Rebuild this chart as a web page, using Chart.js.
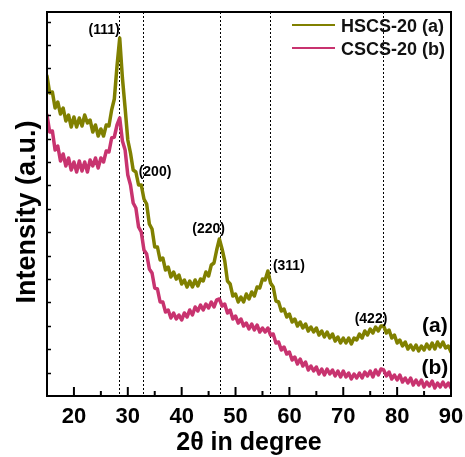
<!DOCTYPE html>
<html>
<head>
<meta charset="utf-8">
<script src="https://cdn.jsdelivr.net/npm/chart.js@4.4.1/dist/chart.umd.min.js"></script>
<style>
  html, body { margin: 0; padding: 0; background: #fff; }
  #wrap { width: 465px; height: 457px; }
</style>
</head>
<body>
<div id="wrap"><canvas id="c" width="465" height="457"></canvas></div>
<script>
// ---- data (2θ in degrees, intensity in arbitrary units) ----
const twoTheta = [
  15,15.5,16,16.5,17,17.5,18,18.5,19,19.5,
  20,20.5,21,21.5,22,22.5,23,23.5,24,24.5,
  25,25.5,26,26.5,27,27.5,28,28.5,29,29.5,
  30,30.5,31,31.5,32,32.5,33,33.5,34,34.5,
  35,35.5,36,36.5,37,37.5,38,38.5,39,39.5,
  40,40.5,41,41.5,42,42.5,43,43.5,44,44.5,
  45,45.5,46,46.5,47,47.5,48,48.5,49,49.5,
  50,50.5,51,51.5,52,52.5,53,53.5,54,54.5,
  55,55.5,56,56.5,57,57.5,58,58.5,59,59.5,
  60,60.5,61,61.5,62,62.5,63,63.5,64,64.5,
  65,65.5,66,66.5,67,67.5,68,68.5,69,69.5,
  70,70.5,71,71.5,72,72.5,73,73.5,74,74.5,
  75,75.5,76,76.5,77,77.5,78,78.5,79,79.5,
  80,80.5,81,81.5,82,82.5,83,83.5,84,84.5,
  85,85.5,86,86.5,87,87.5,88,88.5,89,89.5,
  90
];
const hscs20 = [
  320,303,304,288,294,282,288,275,281,269,
  279,269,278,270,281,273,276,264,271,260,
  267,260,271,270,286,297,330,358,318,288,
  256,243,226,224,211,211,197,192,172,167,
  149,149,136,138,126,129,119,124,117,121,
  112,116,109,115,109,116,110,117,115,124,
  120,131,133,146,157,147,135,115,112,100,
  102,94,99,94,102,97,104,100,109,108,
  117,116,125,113,109,95,94,85,87,79,
  82,74,77,70,74,68,72,65,69,64,
  68,61,65,59,64,58,62,55,59,53,
  58,53,58,52,58,56,62,58,65,61,
  67,63,69,65,70,70,63,66,58,61,
  53,56,50,54,47,51,46,51,45,50,
  46,52,47,53,47,54,49,54,48,50,
  44
];
const cscs20 = [
  281,264,265,246,250,235,242,230,238,226,
  234,224,235,225,234,224,236,230,238,228,
  238,234,245,244,258,259,271,278,255,246,
  221,211,193,188,169,164,146,142,127,123,
  108,107,94,94,84,86,78,83,77,81,
  76,83,79,86,81,89,85,91,86,92,
  88,94,89,96,97,90,92,83,86,77,
  80,73,77,70,73,67,72,66,71,64,
  68,64,68,61,62,53,54,46,49,42,
  44,36,39,32,37,30,34,26,30,25,
  29,22,27,21,27,22,26,20,25,19,
  25,19,23,17,22,18,23,18,24,20,
  25,19,26,21,27,26,20,24,17,21,
  16,21,14,18,13,18,11,16,11,16,
  9,14,10,15,8,13,9,14,9,13,
  8
];
const seriesNames = ['HSCS-20 (a)', 'CSCS-20 (b)'];
const xTickLabels = [20, 30, 40, 50, 60, 70, 80, 90];
const xMinorTicks = [25, 35, 45, 55, 65, 75, 85];
const peakLines = [28.4, 32.9, 47.2, 56.4, 77.4];
const peakLabels = ['(111)', '(200)', '(220)', '(311)', '(422)'];
const curveLabels = ['(a)', '(b)'];

// ---- layout / style (not data) ----
const X_MIN = 15, X_MAX = 90, Y_MIN = 0, Y_MAX = 384, Y_TICK_STEP = 23.4;
const peakLabelPos = [[25.6, 366], [35.05, 223.5], [45.0, 167], [59.9, 130], [75.15, 77]];
const curveLabelPos = [[87.0, 70], [87.0, 28]];
const COLORS = ['#808000', '#c8336f'];
const FONT = '"Liberation Sans", Arial, sans-serif';

function pts(ys) { return twoTheta.map((x, i) => ({ x: x, y: ys[i] })); }

const decor = {
  id: 'decor',
  beforeDatasetsDraw(chart) {
    const { ctx, chartArea: a, scales: { x } } = chart;
    ctx.save();
    ctx.strokeStyle = '#000';
    ctx.lineWidth = 1;
    ctx.setLineDash([2, 2]);
    peakLines.forEach(v => {
      const px = Math.round(x.getPixelForValue(v)) + 0.5;
      ctx.beginPath(); ctx.moveTo(px, a.top); ctx.lineTo(px, a.bottom); ctx.stroke();
    });
    ctx.restore();
  },
  afterDatasetsDraw(chart) {
    const { ctx, chartArea: a, scales: { x, y } } = chart;
    ctx.save();
    ctx.strokeStyle = '#000';
    ctx.fillStyle = '#000';
    // frame
    ctx.lineWidth = 2;
    ctx.strokeRect(a.left, a.top, a.right - a.left, a.bottom - a.top);
    // x ticks (inward)
    ctx.lineWidth = 2;
    xTickLabels.forEach(v => {
      const px = x.getPixelForValue(v);
      ctx.beginPath(); ctx.moveTo(px, a.bottom); ctx.lineTo(px, a.bottom - 9); ctx.stroke();
    });
    xMinorTicks.forEach(v => {
      const px = x.getPixelForValue(v);
      ctx.beginPath(); ctx.moveTo(px, a.bottom); ctx.lineTo(px, a.bottom - 5); ctx.stroke();
    });
    // y ticks (inward, no labels)
    ctx.lineWidth = 1.5;
    for (let v = Y_MIN + Y_TICK_STEP; v < Y_MAX; v += Y_TICK_STEP) {
      const py = Math.round(y.getPixelForValue(v)) + 0.5;
      ctx.beginPath(); ctx.moveTo(a.left, py); ctx.lineTo(a.left + 4, py); ctx.stroke();
    }
    // x tick labels
    ctx.font = 'bold 22px ' + FONT;
    ctx.textAlign = 'center';
    ctx.textBaseline = 'alphabetic';
    xTickLabels.forEach(v => {
      ctx.fillText(String(v), x.getPixelForValue(v), a.bottom + 27);
    });
    // x title
    ctx.font = 'bold 25px ' + FONT;
    ctx.fillText('2\u03B8 in degree', (a.left + a.right) / 2, a.bottom + 54);
    // y title
    ctx.save();
    ctx.translate(35, 212);
    ctx.rotate(-Math.PI / 2);
    ctx.font = 'bold 27px ' + FONT;
    ctx.textAlign = 'center';
    ctx.fillText('Intensity (a.u.)', 0, 0);
    ctx.restore();
    // peak labels
    ctx.font = 'bold 14px ' + FONT;
    ctx.textBaseline = 'middle';
    peakLabels.forEach((t, i) => {
      ctx.fillText(t, x.getPixelForValue(peakLabelPos[i][0]), y.getPixelForValue(peakLabelPos[i][1]));
    });
    // curve labels
    ctx.font = 'bold 21px ' + FONT;
    curveLabels.forEach((t, i) => {
      ctx.fillText(t, x.getPixelForValue(curveLabelPos[i][0]), y.getPixelForValue(curveLabelPos[i][1]));
    });
    // legend
    ctx.textAlign = 'left';
    ctx.textBaseline = 'alphabetic';
    ctx.font = 'bold 18px ' + FONT;
    chart.data.datasets.forEach((ds, i) => {
      const ly = 25 + i * 23;
      ctx.strokeStyle = ds.borderColor;
      ctx.lineWidth = 2;
      ctx.beginPath(); ctx.moveTo(292, ly); ctx.lineTo(335, ly); ctx.stroke();
      ctx.fillStyle = '#111';
      ctx.fillText(ds.label, 341, ly + 7);
    });
    ctx.restore();
  }
};

new Chart(document.getElementById('c'), {
  type: 'line',
  data: {
    datasets: [
      { label: seriesNames[0], data: pts(hscs20), borderColor: COLORS[0], borderWidth: 3.5, borderJoinStyle: 'round', borderCapStyle: 'round', pointRadius: 0, tension: 0, fill: false },
      { label: seriesNames[1], data: pts(cscs20), borderColor: COLORS[1], borderWidth: 3.5, borderJoinStyle: 'round', borderCapStyle: 'round', pointRadius: 0, tension: 0, fill: false }
    ]
  },
  options: {
    responsive: false,
    animation: false,
    devicePixelRatio: 1,
    layout: { padding: { left: 47, right: 14, top: 12, bottom: 61 } },
    plugins: { legend: { display: false }, tooltip: { enabled: false } },
    scales: {
      x: { type: 'linear', min: X_MIN, max: X_MAX, display: false },
      y: { type: 'linear', min: Y_MIN, max: Y_MAX, display: false }
    }
  },
  plugins: [decor]
});
</script>
</body>
</html>
